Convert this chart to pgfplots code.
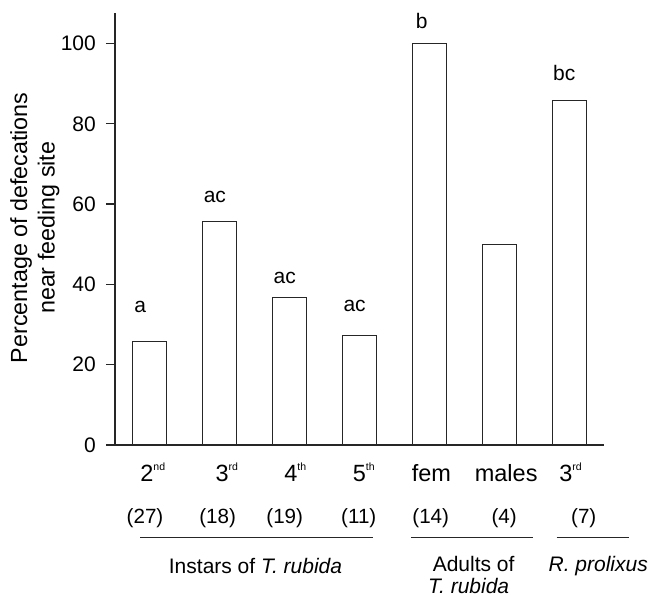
\documentclass[border=0pt]{standalone}
\usepackage{fontspec}
\setmainfont{Liberation Sans}
\usepackage{pgfplots}
\pgfplotsset{compat=1.18}
% small raised ordinal suffix
\newcommand{\sps}[1]{\raisebox{11pt}{\fontsize{10.5}{10.5}\selectfont #1}}
\begin{document}
\begin{tikzpicture}
\useasboundingbox (-115pt,-152pt) rectangle (534pt,445pt);
\begin{axis}[
    scale only axis,
    width=489pt, height=432.3pt,
    xmin=0.5, xmax=7.5,
    ymin=0, ymax=107.67,
    axis x line=bottom, axis y line=left,
    axis line style={-, line width=1.6pt, black!85},
    clip=false,
    ytick={0,20,...,100},
    tick align=outside,
    major tick length=9pt,
    ytick style={line width=1.3pt, black!85},
    yticklabel style={font=\fontsize{21}{25}\selectfont, inner sep=0pt, xshift=-10pt},
    /pgf/number format/assume math mode=true,
    xtick={1.04,2.10,3.08,4.06,5.03,6.10,7.02},
    xtick style={draw=none},
    xticklabels={2\sps{nd},3\sps{rd},4\sps{th},5\sps{th},fem,males,3\sps{rd}},
    xticklabel style={font=\fontsize{23.5}{28}\selectfont, anchor=base, inner sep=0pt, yshift=-27.7pt},
    ylabel={Percentage of defecations\\near feeding site},
    ylabel style={align=center, font=\fontsize{23.3}{27.4}\selectfont, inner sep=0pt,
        at={(axis description cs:-0.1638,0.5025)}, anchor=center},
  ]

  \addplot[ybar, bar width=34pt, bar shift=0pt, fill=white, draw=black!85, line width=1pt]
  coordinates {
      (1,25.9)(2,55.6)(3,36.8)(4,27.3)(5,100)(6,50)(7,85.7)
    };

  % significance letters
  \begin{scope}[every node/.style={font=\fontsize{21}{25}\selectfont, anchor=base, inner sep=0pt}]
    \node at (axis cs:0.86,32.9) {a};
    \node at (axis cs:1.93,60.35) {ac};
    \node at (axis cs:2.93,40.1) {ac};
    \node at (axis cs:3.93,33.2) {ac};
    \node at (axis cs:4.89,103.8) {b};
    \node at (axis cs:6.93,90.9) {bc};
  \end{scope}

  % sample sizes
  \begin{scope}[every node/.style={font=\fontsize{20.6}{25}\selectfont, anchor=base, inner sep=0pt, yshift=-78.5pt}]
    \node at (axis cs:0.93,0) {(27)};
    \node at (axis cs:1.97,0) {(18)};
    \node at (axis cs:2.93,0) {(19)};
    \node at (axis cs:3.99,0) {(11)};
    \node at (axis cs:5.02,0) {(14)};
    \node at (axis cs:6.07,0) {(4)};
    \node at (axis cs:7.21,0) {(7)};
  \end{scope}

  % group brackets
  \draw[line width=1.5pt, black!85] ([yshift=-92.7pt]axis cs:0.858,0) -- ([yshift=-92.7pt]axis cs:4.189,0);
  \draw[line width=1.5pt, black!85] ([yshift=-92.7pt]axis cs:4.737,0) -- ([yshift=-92.7pt]axis cs:6.488,0);
  \draw[line width=1.5pt, black!85] ([yshift=-92.7pt]axis cs:6.823,0) -- ([yshift=-92.7pt]axis cs:7.862,0);

  \begin{scope}[every node/.style={font=\fontsize{21}{25}\selectfont, anchor=base, inner sep=0pt}]
    \node[yshift=-128.3pt] at (axis cs:2.511,0) {Instars of \textit{T. rubida}};
    \node[yshift=-126.7pt] at (axis cs:5.634,0) {Adults of};
    \node[yshift=-148.5pt, text depth=0pt] at (axis cs:5.563,0) {\textit{T. rubida}};
    \node[yshift=-126.7pt] at (axis cs:7.418,0) {\textit{R. prolixus}};
  \end{scope}

\end{axis}
\end{tikzpicture}
\end{document}
